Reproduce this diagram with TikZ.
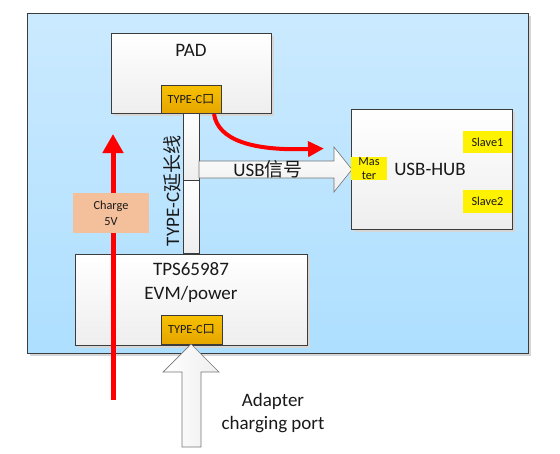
\documentclass[tikz,border=0pt]{standalone}
\usepackage{fontspec}
\setmainfont{Carlito}
\newfontfamily\cjk{Noto Sans CJK SC}
\usetikzlibrary{shadows,arrows.meta}
\definecolor{bgtop}{RGB}{203,234,255}
\definecolor{bgbot}{RGB}{174,223,255}
\definecolor{bordc}{RGB}{60,60,60}
\definecolor{boxbot}{RGB}{238,238,238}
\definecolor{goldtop}{RGB}{247,192,0}
\definecolor{goldbot}{RGB}{230,166,0}
\definecolor{peach}{RGB}{244,192,155}
\definecolor{txt}{RGB}{25,25,25}
\tikzset{
  shad/.style={drop shadow={shadow xshift=2.5pt,shadow yshift=-2.5pt,fill=black!16,opacity=1}},
  bgbox/.style={draw=bordc,line width=1pt,top color=bgtop,bottom color=bgbot,shad,inner sep=0pt},
  wbox/.style={draw=bordc,line width=1pt,top color=white,bottom color=boxbot,shad,inner sep=0pt},
  cable/.style={draw=bordc,line width=0.8pt,top color=white,bottom color=boxbot,inner sep=0pt},
  gold/.style={draw=bordc,line width=0.8pt,top color=goldtop,bottom color=goldbot,inner sep=0pt,text=txt,font=\fontsize{12.3}{14}\selectfont},
  ylw/.style={fill=yellow,inner sep=0pt,text=txt,font=\fontsize{12.3}{14}\selectfont,align=center},
  big/.style={text=txt,font=\fontsize{19}{24}\selectfont,align=center,inner sep=0pt},
  redarrow/.style={draw=red,line width=5pt},
}
\begin{document}
\begin{tikzpicture}[x=1pt,y=-1pt]
\useasboundingbox (0,0) rectangle (560,453);
% background panel
\node[bgbox,minimum width=500.5pt,minimum height=339.5pt] (bg) at (277.75,183.25) {};
% PAD
\node[wbox,minimum width=160pt,minimum height=80pt] (pad) at (191,73) {};
\node[big] (padt) at (191,50) {PAD};
\node[gold,minimum width=60pt,minimum height=28pt] (padc) at (191,99) {TYPE-C{\cjk 口}};
% cable
\node[cable,minimum width=16pt,minimum height=67pt] (cab1) at (191,146.5) {};
\node[cable,minimum width=16pt,minimum height=73pt] (cab2) at (191,216.5) {};
\node[big,rotate=90] (cabt) at (172,191) {TYPE-C{\cjk 延长线}};
% USB arrow
\draw[draw=bordc!70,line width=0.6pt,top color=white,bottom color=boxbot]
  (199,161) -- (334,161) -- (334,147) -- (352,169.5) -- (334,192) -- (334,178) -- (199,178) -- cycle;
\node[big] (usbt) at (268,169.5) {USB{\cjk 信号}};
% USB-HUB
\node[wbox,minimum width=161pt,minimum height=120pt] (hub) at (431.5,169) {};
\node[big] (hubt) at (430,169.5) {USB-HUB};
\node[ylw,minimum width=36pt,minimum height=23pt,font=\fontsize{12.3}{14}\selectfont] (master) at (369,168.5) {Mas\\ter};
\node[ylw,minimum width=49pt,minimum height=22pt] (slave1) at (487.5,142) {Slave1};
\node[ylw,minimum width=49pt,minimum height=23pt] (slave2) at (487.5,201.5) {Slave2};
% red curved arrow
\coordinate (cs) at (214,114);
\coordinate (ce) at (324,148.5);
\draw[red,line width=4pt,-{Triangle[width=15pt,length=16pt]}] (cs) .. controls (218,140) and (252,151) .. (ce);
% TPS box
\node[wbox,minimum width=232pt,minimum height=91pt] (tps) at (191,299.5) {};
\node[big] (tpst) at (191,283) {TPS65987\\EVM/power};
\node[gold,minimum width=61pt,minimum height=29pt] (tpsc) at (191.5,329.5) {TYPE-C{\cjk 口}};
% red vertical arrow
\coordinate (rbot) at (113,400);
\coordinate (rtop) at (113,134);
\draw[redarrow,-{Triangle[width=20pt,length=19pt]}] (rbot) -- (rtop);
\node[fill=peach,minimum width=76pt,minimum height=40pt,inner sep=0pt,text=txt,align=center,font=\fontsize{12.3}{16}\selectfont] (charge) at (111,213) {Charge\\5V};
% adapter arrow
\draw[draw=bordc!70,line width=0.7pt,left color=white,right color=boxbot]
  (182,447) -- (182,372) -- (163,372) -- (191,344) -- (219,372) -- (201,372) -- (201,447) -- cycle;
\node[big,font=\fontsize{19}{23}\selectfont] (adt) at (273,413) {Adapter\\charging port};
\end{tikzpicture}
\end{document}
